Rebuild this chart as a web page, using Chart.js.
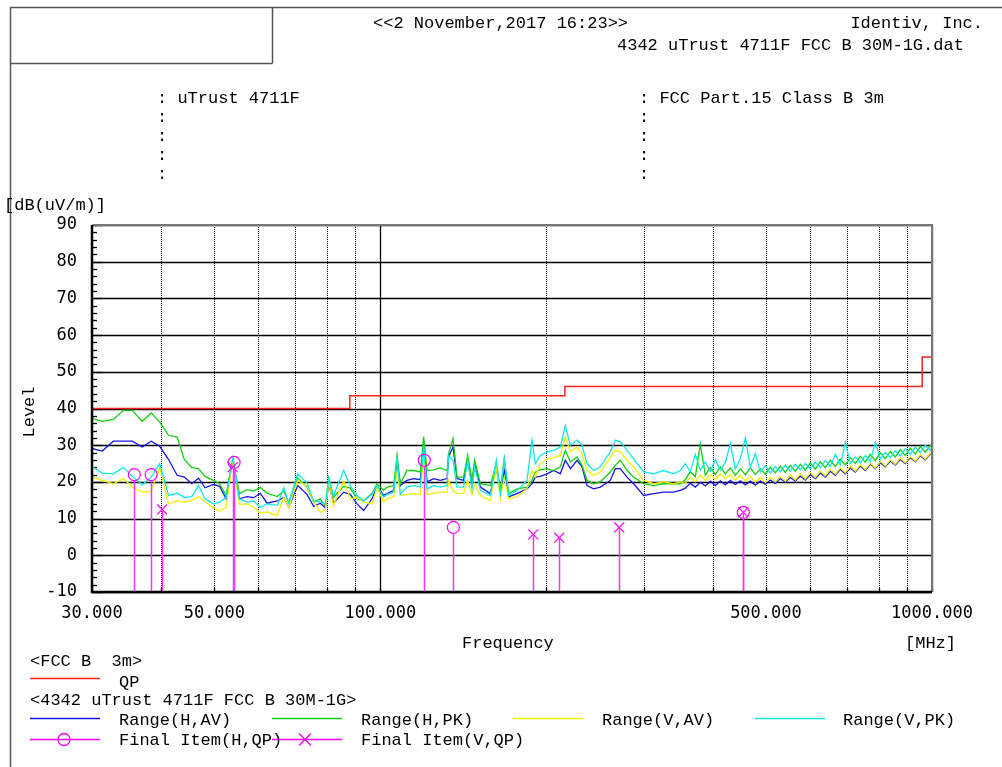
<!DOCTYPE html>
<html><head><meta charset="utf-8">
<script src="https://cdn.jsdelivr.net/npm/chart.js@4"></script>
<style>
html,body{margin:0;padding:0;background:#fff;}
#wrap{position:relative;width:1002px;height:767px;overflow:hidden;background:#fff;}
#c{position:absolute;left:0;top:0;}
svg{position:absolute;left:0;top:0;}
.t{position:absolute;font-family:"Liberation Mono",monospace;font-size:17px;line-height:17px;color:#000;white-space:pre;}
</style></head>
<body><div id="wrap">
<canvas id="c" width="1002" height="767"></canvas>
<svg width="1002" height="767">
<g stroke="#555" stroke-width="1.5" fill="none">
<line x1="10" y1="7.5" x2="1002" y2="7.5"/>
<line x1="10.5" y1="7" x2="10.5" y2="767"/>
<line x1="272.5" y1="7" x2="272.5" y2="63.5"/>
<line x1="10" y1="63.5" x2="272.5" y2="63.5"/>
</g>
<g stroke-width="1.3" fill="none">
<line x1="30" y1="678.5" x2="100" y2="678.5" stroke="#ff2020"/>
<line x1="30" y1="718.5" x2="100" y2="718.5" stroke="#1515e6"/>
<line x1="272" y1="718.5" x2="342" y2="718.5" stroke="#10d010"/>
<line x1="513" y1="718.5" x2="583" y2="718.5" stroke="#f0f000"/>
<line x1="755" y1="718.5" x2="825" y2="718.5" stroke="#10e8e8"/>
<line x1="30" y1="739.5" x2="100" y2="739.5" stroke="#ff00ff"/>
<circle cx="64" cy="739.5" r="6" stroke="#ff00ff"/>
<line x1="272" y1="739.5" x2="342" y2="739.5" stroke="#ff00ff"/>
<path d="M299 733.5 l12 12 M311 733.5 l-12 12" stroke="#ff00ff"/>
</g>
</svg>
<div class="t" style="left:373px;top:15px">&lt;&lt;2 November,2017 16:23&gt;&gt;</div>
<div class="t" style="right:19px;top:15px">Identiv, Inc.</div>
<div class="t" style="left:617px;top:37px">4342 uTrust 4711F FCC B 30M-1G.dat</div>
<div class="t" style="left:157px;top:90px">: uTrust 4711F</div>
<div class="t" style="left:157px;top:109px">:</div>
<div class="t" style="left:157px;top:128px">:</div>
<div class="t" style="left:157px;top:147px">:</div>
<div class="t" style="left:157px;top:166px">:</div>
<div class="t" style="left:639px;top:90px">: FCC Part.15 Class B 3m</div>
<div class="t" style="left:639px;top:109px">:</div>
<div class="t" style="left:639px;top:128px">:</div>
<div class="t" style="left:639px;top:147px">:</div>
<div class="t" style="left:639px;top:166px">:</div>
<div class="t" style="left:4px;top:197px">[dB(uV/m)]</div>
<div class="t" style="left:29px;top:412px;transform:translate(-50%,-50%) rotate(-90deg)">Level</div>
<div class="t" style="left:462px;top:635px">Frequency</div>
<div class="t" style="left:905px;top:635px">[MHz]</div>
<div class="t" style="left:30px;top:653px">&lt;FCC B  3m&gt;</div>
<div class="t" style="left:119px;top:674px">QP</div>
<div class="t" style="left:30px;top:692px">&lt;4342 uTrust 4711F FCC B 30M-1G&gt;</div>
<div class="t" style="left:119px;top:712px">Range(H,AV)</div>
<div class="t" style="left:361px;top:712px">Range(H,PK)</div>
<div class="t" style="left:602px;top:712px">Range(V,AV)</div>
<div class="t" style="left:843px;top:712px">Range(V,PK)</div>
<div class="t" style="left:119px;top:732px">Final Item(H,QP)</div>
<div class="t" style="left:361px;top:732px">Final Item(V,QP)</div>
</div>
<script>
// ---- data ----
const freq = [
30.0,31.3,32.8,34.2,35.5,37.0,38.4,39.8,41.3,42.8,44.1,45.5,46.8,48.1,49.8,51.1,52.5,54.0,55.5,57.3,
58.9,60.6,62.3,65.0,66.8,68.2,70.8,73.6,75.7,77.8,79.5,80.6,82.2,85.8,88.2,90.7,93.2,96.6,98.6,
101.3,102.8,105.7,107.2,108.7,111.7,114.9,118.1,119.8,121.5,124.9,128.4,132.1,132.9,135.4,137.7,141.5,143.9,146.6,148.2,
151.8,158.2,162.2,165.0,167.7,170.8,176.9,184.4,188.3,190.9,194.9,200.5,206.1,211.9,216.4,221.0,227.2,232.0,236.9,243.5,
250.4,261.1,266.6,272.2,280.0,287.8,300.0,312.8,326.1,340.0,349.7,
357.1,364.6,372.3,380.2,388.2,396.4,404.8,413.3,422.0,430.9,440.0,449.3,458.8,468.4,478.3,488.4,498.7,509.2,519.9,530.9,
542.1,553.5,565.2,577.1,589.3,601.7,614.4,627.4,640.6,654.1,667.9,682.0,696.4,711.0,726.0,741.3,757.0,772.9,789.2,805.9,
822.9,840.2,857.9,876.0,894.5,913.4,932.6,952.3,972.4,992.9,1000];

const rangeHAV = [
29.1,28.4,31.1,31.1,31.1,29.5,31.1,29.7,26.1,21.8,21.3,19.5,21.0,18.4,19.3,18.8,15.4,25.9,15.4,16.0,
15.7,16.9,14.2,14.8,15.8,13.1,19.0,16.6,13.3,14.2,12.9,19.5,14.2,17.2,16.6,14.0,12.2,15.4,18.8,
16.4,16.8,17.7,25.0,19.0,20.4,20.9,20.6,29.5,20.0,20.9,20.4,20.9,26.8,29.5,20.9,20.4,25.9,20.0,25.0,
18.6,16.8,24.1,17.2,23.1,15.9,16.8,18.1,19.5,21.3,21.5,22.2,23.1,22.2,25.9,23.6,25.9,24.1,19.0,18.1,
18.6,20.4,23.6,23.6,21.3,19.5,16.3,16.8,17.2,17.2,17.7,
18.3,19.6,18.6,19.9,18.9,20.2,19.0,20.3,19.2,20.4,19.3,20.3,19.2,20.2,19.1,20.3,19.3,20.5,19.6,20.9,
19.9,21.2,20.2,21.6,20.5,22.0,20.9,22.4,21.3,22.9,21.8,23.4,22.2,23.8,22.7,24.3,23.1,24.8,23.6,25.2,
24.1,25.7,24.6,26.1,25.0,26.6,25.5,27.1,26.0,27.6,27.6];

const rangeHPK = [
37.3,36.5,37.0,39.5,39.5,36.5,38.8,36.3,32.7,32.2,26.1,23.9,23.6,21.5,20.4,19.5,16.3,26.3,16.8,17.9,
17.5,18.5,16.9,16.0,17.5,14.5,21.1,18.6,14.5,15.4,13.3,21.1,15.8,18.8,18.3,15.4,14.8,16.9,19.5,
17.7,18.6,19.0,27.2,19.5,23.1,23.1,22.7,32.3,23.1,23.3,23.8,23.1,27.7,31.8,21.3,21.3,27.2,20.4,25.9,
19.5,19.0,25.0,17.7,26.3,16.8,18.1,18.6,20.4,22.7,23.3,23.6,23.1,24.1,28.6,25.4,26.8,24.5,20.4,19.5,
20.0,22.7,24.5,25.9,23.1,21.3,19.5,19.0,19.5,19.5,19.5,
20.6,22.8,21.4,30.2,21.8,23.9,22.0,24.1,22.2,23.8,21.8,23.6,21.9,23.8,22.0,23.6,22.1,24.0,22.5,24.3,
22.6,24.5,22.9,24.8,23.2,25.2,23.5,25.5,23.9,25.9,24.2,26.2,24.6,26.6,25.0,27.0,25.4,27.5,25.8,27.9,
26.3,28.3,26.8,28.8,27.2,29.2,27.6,29.6,28.1,29.9,29.5];

const rangeVAV = [
21.3,20.4,19.5,20.9,18.6,17.2,17.4,24.0,14.0,14.9,14.5,14.9,16.0,14.5,13.0,12.0,13.1,26.3,13.9,14.0,
13.1,11.5,11.8,10.8,15.8,13.1,20.4,18.8,14.5,11.7,12.5,20.0,13.6,20.4,15.4,15.8,14.5,14.0,18.6,
14.5,15.4,15.9,23.1,16.3,16.6,16.8,16.6,26.8,16.6,16.9,17.2,17.2,20.4,17.7,16.8,16.9,20.4,16.6,19.5,
16.3,15.0,24.1,15.4,21.3,15.4,16.0,18.1,23.1,21.3,25.0,26.3,26.6,27.2,32.3,28.2,29.5,27.7,23.1,21.8,
22.7,26.6,28.6,28.2,25.9,24.1,20.4,19.5,20.0,19.5,20.0,
19.6,21.2,20.0,21.8,20.4,22.0,20.6,22.2,20.8,22.0,20.5,21.8,20.2,21.5,19.9,21.2,19.8,21.3,20.0,21.5,
20.2,21.9,20.5,22.2,20.8,22.6,21.2,23.0,21.6,23.4,22.1,23.8,22.5,24.3,22.9,24.7,23.4,25.1,23.8,25.6,
24.3,26.0,24.8,26.5,25.2,26.9,25.7,27.4,26.2,27.8,27.8];

const rangeVPK = [
24.2,22.4,22.2,24.0,21.5,19.2,21.3,25.0,16.3,16.9,15.8,16.0,19.0,15.4,14.0,14.5,15.8,26.6,15.4,14.5,
14.8,13.1,14.0,13.6,18.4,14.2,22.2,19.7,14.8,14.5,14.0,20.9,16.3,23.1,19.0,16.3,14.8,16.6,19.0,
15.9,16.6,17.2,26.8,16.6,18.6,19.0,18.6,30.0,18.1,19.0,18.6,19.0,27.2,25.9,18.6,18.6,25.9,18.1,24.1,
17.7,16.3,25.9,16.8,26.3,16.3,17.7,20.4,31.4,25.0,27.2,28.2,28.6,29.5,35.4,30.0,31.4,30.0,25.0,23.1,
24.1,28.2,31.4,30.9,28.6,26.3,22.7,22.2,23.1,22.2,23.1,
25.0,22.8,27.5,23.2,25.5,22.9,26.0,23.2,25.3,30.5,23.6,26.3,32.0,24.0,27.8,22.6,24.5,22.4,24.2,22.7,
24.5,22.9,24.8,23.3,25.0,23.5,25.4,23.9,25.8,24.2,27.5,24.6,30.8,25.0,26.8,25.2,27.2,25.6,30.8,26.2,
28.0,26.6,28.5,27.1,29.0,27.5,29.5,28.0,30.0,28.6,29.6];

const limitFreq = [30, 88, 216, 960, 1000];
const limitQP   = [40, 43.5, 46, 54, 54];

const finalHFreq = [35.8, 38.4, 54.3, 120.1, 135.6, 454.9];
const finalHQP   = [22.0, 22.0, 25.3, 25.9, 7.6, 11.7];
const finalVFreq = [40.2, 54.0, 189.3, 211.0, 271.0, 454.9];
const finalVQP   = [12.5, 24.0, 5.7, 4.8, 7.6, 11.7];

const yTicks = [-10, 0, 10, 20, 30, 40, 50, 60, 70, 80, 90];
const xGrid = [30, 40, 50, 60, 70, 80, 90, 100, 200, 300, 400, 500, 600, 700, 800, 900, 1000];
const xLabeled = [30, 50, 100, 500, 1000];
const xDecades = [100, 1000];

// ---- build ----
const pts = (xs, ys) => xs.map((v, i) => ({x: v, y: ys[i]}));
const traceStyle = (c, order) => ({borderColor: c, borderWidth: 1.3, pointRadius: 0, tension: 0, fill: false, order});

const emiPlugin = {
  id: 'emi',
  beforeDatasetsDraw(chart) {
    const {ctx, chartArea: a, scales: {x, y}} = chart;
    ctx.save();
    ctx.strokeStyle = '#000';
    ctx.lineWidth = 1.5;
    yTicks.forEach(v => {
      const p = Math.round(y.getPixelForValue(v)) + 0.5;
      ctx.beginPath(); ctx.moveTo(a.left, p); ctx.lineTo(a.right, p); ctx.stroke();
    });
    ctx.strokeStyle = '#000';
    xGrid.forEach(f => {
      const p = Math.round(x.getPixelForValue(f)) + 0.5;
      ctx.setLineDash(xDecades.includes(f) ? [] : [1, 1]);
      ctx.lineWidth = xDecades.includes(f) ? 1.3 : 1;
      ctx.beginPath(); ctx.moveTo(p, a.top); ctx.lineTo(p, a.bottom); ctx.stroke();
    });
    ctx.setLineDash([]);
    ctx.lineWidth = 1.3;
    for (let v = yTicks[0]; v <= yTicks[yTicks.length - 1]; v += 2) {
      const p = Math.round(y.getPixelForValue(v)) + 0.5;
      const len = (v % 10 === 0) ? 10 : 5;
      ctx.beginPath(); ctx.moveTo(a.left, p); ctx.lineTo(a.left + len, p); ctx.stroke();
    }
    xGrid.forEach(f => {
      const p = Math.round(x.getPixelForValue(f)) + 0.5;
      ctx.beginPath(); ctx.moveTo(p, a.bottom); ctx.lineTo(p, a.bottom - 4); ctx.stroke();
    });
    ctx.restore();
  },
  afterDatasetsDraw(chart) {
    const {ctx, chartArea: a, scales: {x, y}} = chart;
    ctx.save();
    ctx.strokeStyle = '#ff33ff';
    ctx.lineWidth = 1.5;
    const base = y.getPixelForValue(yTicks[0]);
    finalHFreq.forEach((f, i) => {
      const px = Math.round(x.getPixelForValue(f)) + 0.5;
      ctx.beginPath(); ctx.moveTo(px, base); ctx.lineTo(px, y.getPixelForValue(finalHQP[i]) + 6); ctx.stroke();
    });
    finalVFreq.forEach((f, i) => {
      const px = Math.round(x.getPixelForValue(f)) + 0.5;
      ctx.beginPath(); ctx.moveTo(px, base); ctx.lineTo(px, y.getPixelForValue(finalVQP[i])); ctx.stroke();
    });
    // plot frame
    ctx.strokeStyle = '#777';
    ctx.lineWidth = 2;
    ctx.beginPath(); ctx.moveTo(a.left, a.top); ctx.lineTo(a.right, a.top); ctx.lineTo(a.right, a.bottom); ctx.stroke();
    ctx.strokeStyle = '#000';
    ctx.lineWidth = 2.5;
    ctx.beginPath(); ctx.moveTo(a.left, a.top); ctx.lineTo(a.left, a.bottom); ctx.lineTo(a.right, a.bottom); ctx.stroke();
    ctx.restore();
  }
};

new Chart(document.getElementById('c'), {
  type: 'line',
  data: {
    datasets: [
      {label: 'Final Item(H,QP)', data: pts(finalHFreq, finalHQP), showLine: false, pointStyle: 'circle', pointRadius: 6, pointBorderWidth: 1.2, pointBorderColor: '#ff00ff', pointBackgroundColor: 'rgba(0,0,0,0)', borderColor: '#ff00ff', order: 0},
      {label: 'Final Item(V,QP)', data: pts(finalVFreq, finalVQP), showLine: false, pointStyle: 'crossRot', pointRadius: 7, pointBorderWidth: 1.2, pointBorderColor: '#ff00ff', borderColor: '#ff00ff', order: 0},
      Object.assign({label: 'QP', data: pts(limitFreq, limitQP), stepped: true}, traceStyle('#ff2020', 1), {borderWidth: 1.5}),
      Object.assign({label: 'Range(V,PK)', data: pts(freq, rangeVPK)}, traceStyle('#10e8e8', 2)),
      Object.assign({label: 'Range(V,AV)', data: pts(freq, rangeVAV)}, traceStyle('#f0f000', 3)),
      Object.assign({label: 'Range(H,PK)', data: pts(freq, rangeHPK)}, traceStyle('#10d010', 4)),
      Object.assign({label: 'Range(H,AV)', data: pts(freq, rangeHAV)}, traceStyle('#1515e6', 5))
    ]
  },
  options: {
    responsive: false,
    animation: false,
    events: [],
    layout: {padding: {left: 0, top: 225, right: 70, bottom: 0}},
    plugins: {legend: {display: false}, tooltip: {enabled: false}},
    scales: {
      x: {
        type: 'logarithmic', min: 30, max: 1000, position: 'bottom',
        afterFit(s) { s.height = 175; },
        afterBuildTicks(s) { s.ticks = xGrid.map(v => ({value: v})); },
        ticks: {
          autoSkip: false, maxRotation: 0, minRotation: 0, padding: 11, color: '#000',
          font: {family: 'DejaVu Sans Mono', size: 17},
          callback: (v) => xLabeled.includes(v) ? Number(v).toFixed(3) : ''
        },
        grid: {display: false, drawTicks: false}, border: {display: false}
      },
      y: {
        type: 'linear', min: -10, max: 90,
        afterFit(s) { s.width = 92; },
        afterBuildTicks(s) { s.ticks = yTicks.map(v => ({value: v})); },
        ticks: {padding: 15, color: '#000', font: {family: 'DejaVu Sans Mono', size: 17}},
        grid: {display: false, drawTicks: false}, border: {display: false}
      }
    }
  },
  plugins: [emiPlugin]
});
</script>
</body></html>
